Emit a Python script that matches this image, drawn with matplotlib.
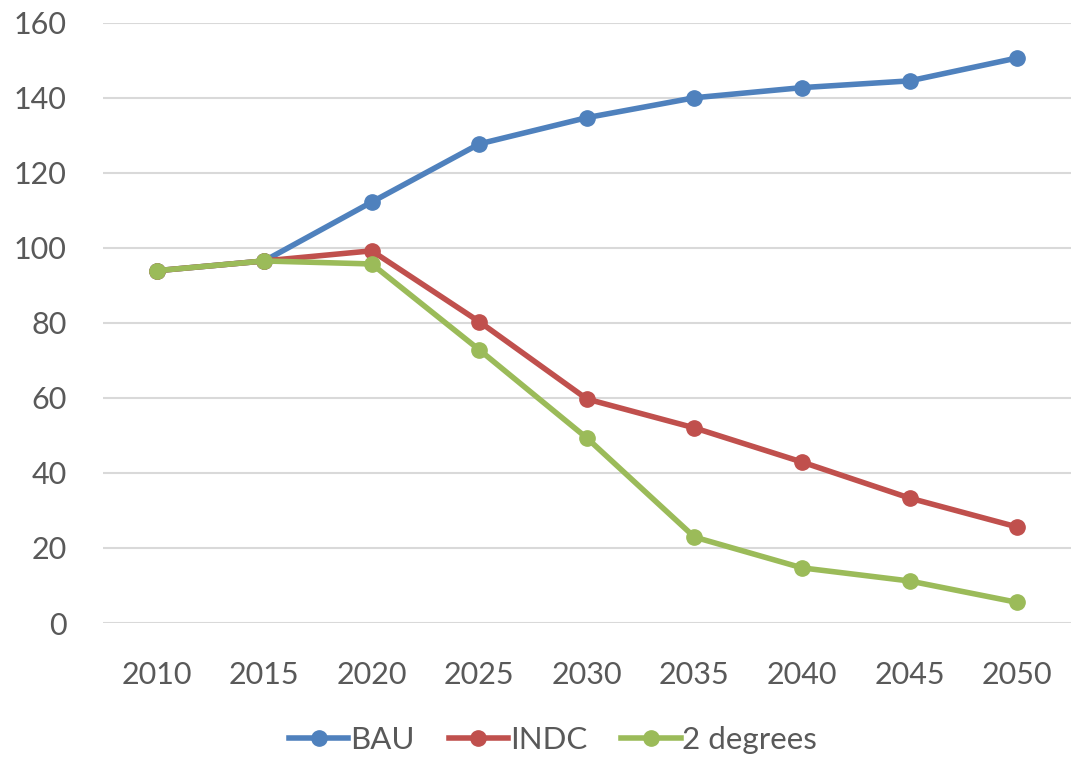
import matplotlib.pyplot as plt

years = ["2010", "2015", "2020", "2025", "2030", "2035", "2040", "2045", "2050"]
bau = [93.9, 96.5, 112.2, 127.7, 134.7, 140.0, 142.7, 144.5, 150.6]
indc = [93.9, 96.5, 99.2, 80.3, 59.7, 52.0, 42.9, 33.3, 25.6]
two_deg = [93.9, 96.5, 95.7, 72.8, 49.3, 22.9, 14.7, 11.2, 5.5]

plt.rcParams['font.family'] = ['Lato', 'DejaVu Sans']
grey = '#595959'

fig = plt.figure(figsize=(10.71, 7.57), dpi=100)
ax = fig.add_axes([0.096, 0.177, 0.904, 0.793])

x = range(len(years))
ax.plot(x, bau, color='#4F81BD', lw=4, marker='o', ms=11, label='BAU', zorder=3)
ax.plot(x, indc, color='#C0504D', lw=4, marker='o', ms=11, label='INDC', zorder=4)
ax.plot(x, two_deg, color='#9BBB59', lw=4, marker='o', ms=11, label='2 degrees', zorder=5)

ax.set_xlim(-0.5, len(years) - 0.5)
ax.set_ylim(0, 160)
ax.set_yticks(range(0, 161, 20))
ax.set_xticks(list(x))
ax.set_xticklabels(years)
ax.yaxis.grid(True, color='#D9D9D9', lw=1.5)
ax.set_axisbelow(True)
for s in ax.spines.values():
    s.set_visible(False)
ax.tick_params(length=0, labelsize=22, colors=grey)
ax.tick_params(axis='y', pad=26)
ax.tick_params(axis='x', pad=27)

leg = ax.legend(loc='center', bbox_to_anchor=(0.465, -0.195), ncol=3, frameon=False,
                fontsize=22.5, handlelength=1.9, handletextpad=0.05, columnspacing=1.1,
                borderaxespad=0, borderpad=0)
for t in leg.get_texts():
    t.set_color(grey)

fig.savefig('out.png', dpi=100)
